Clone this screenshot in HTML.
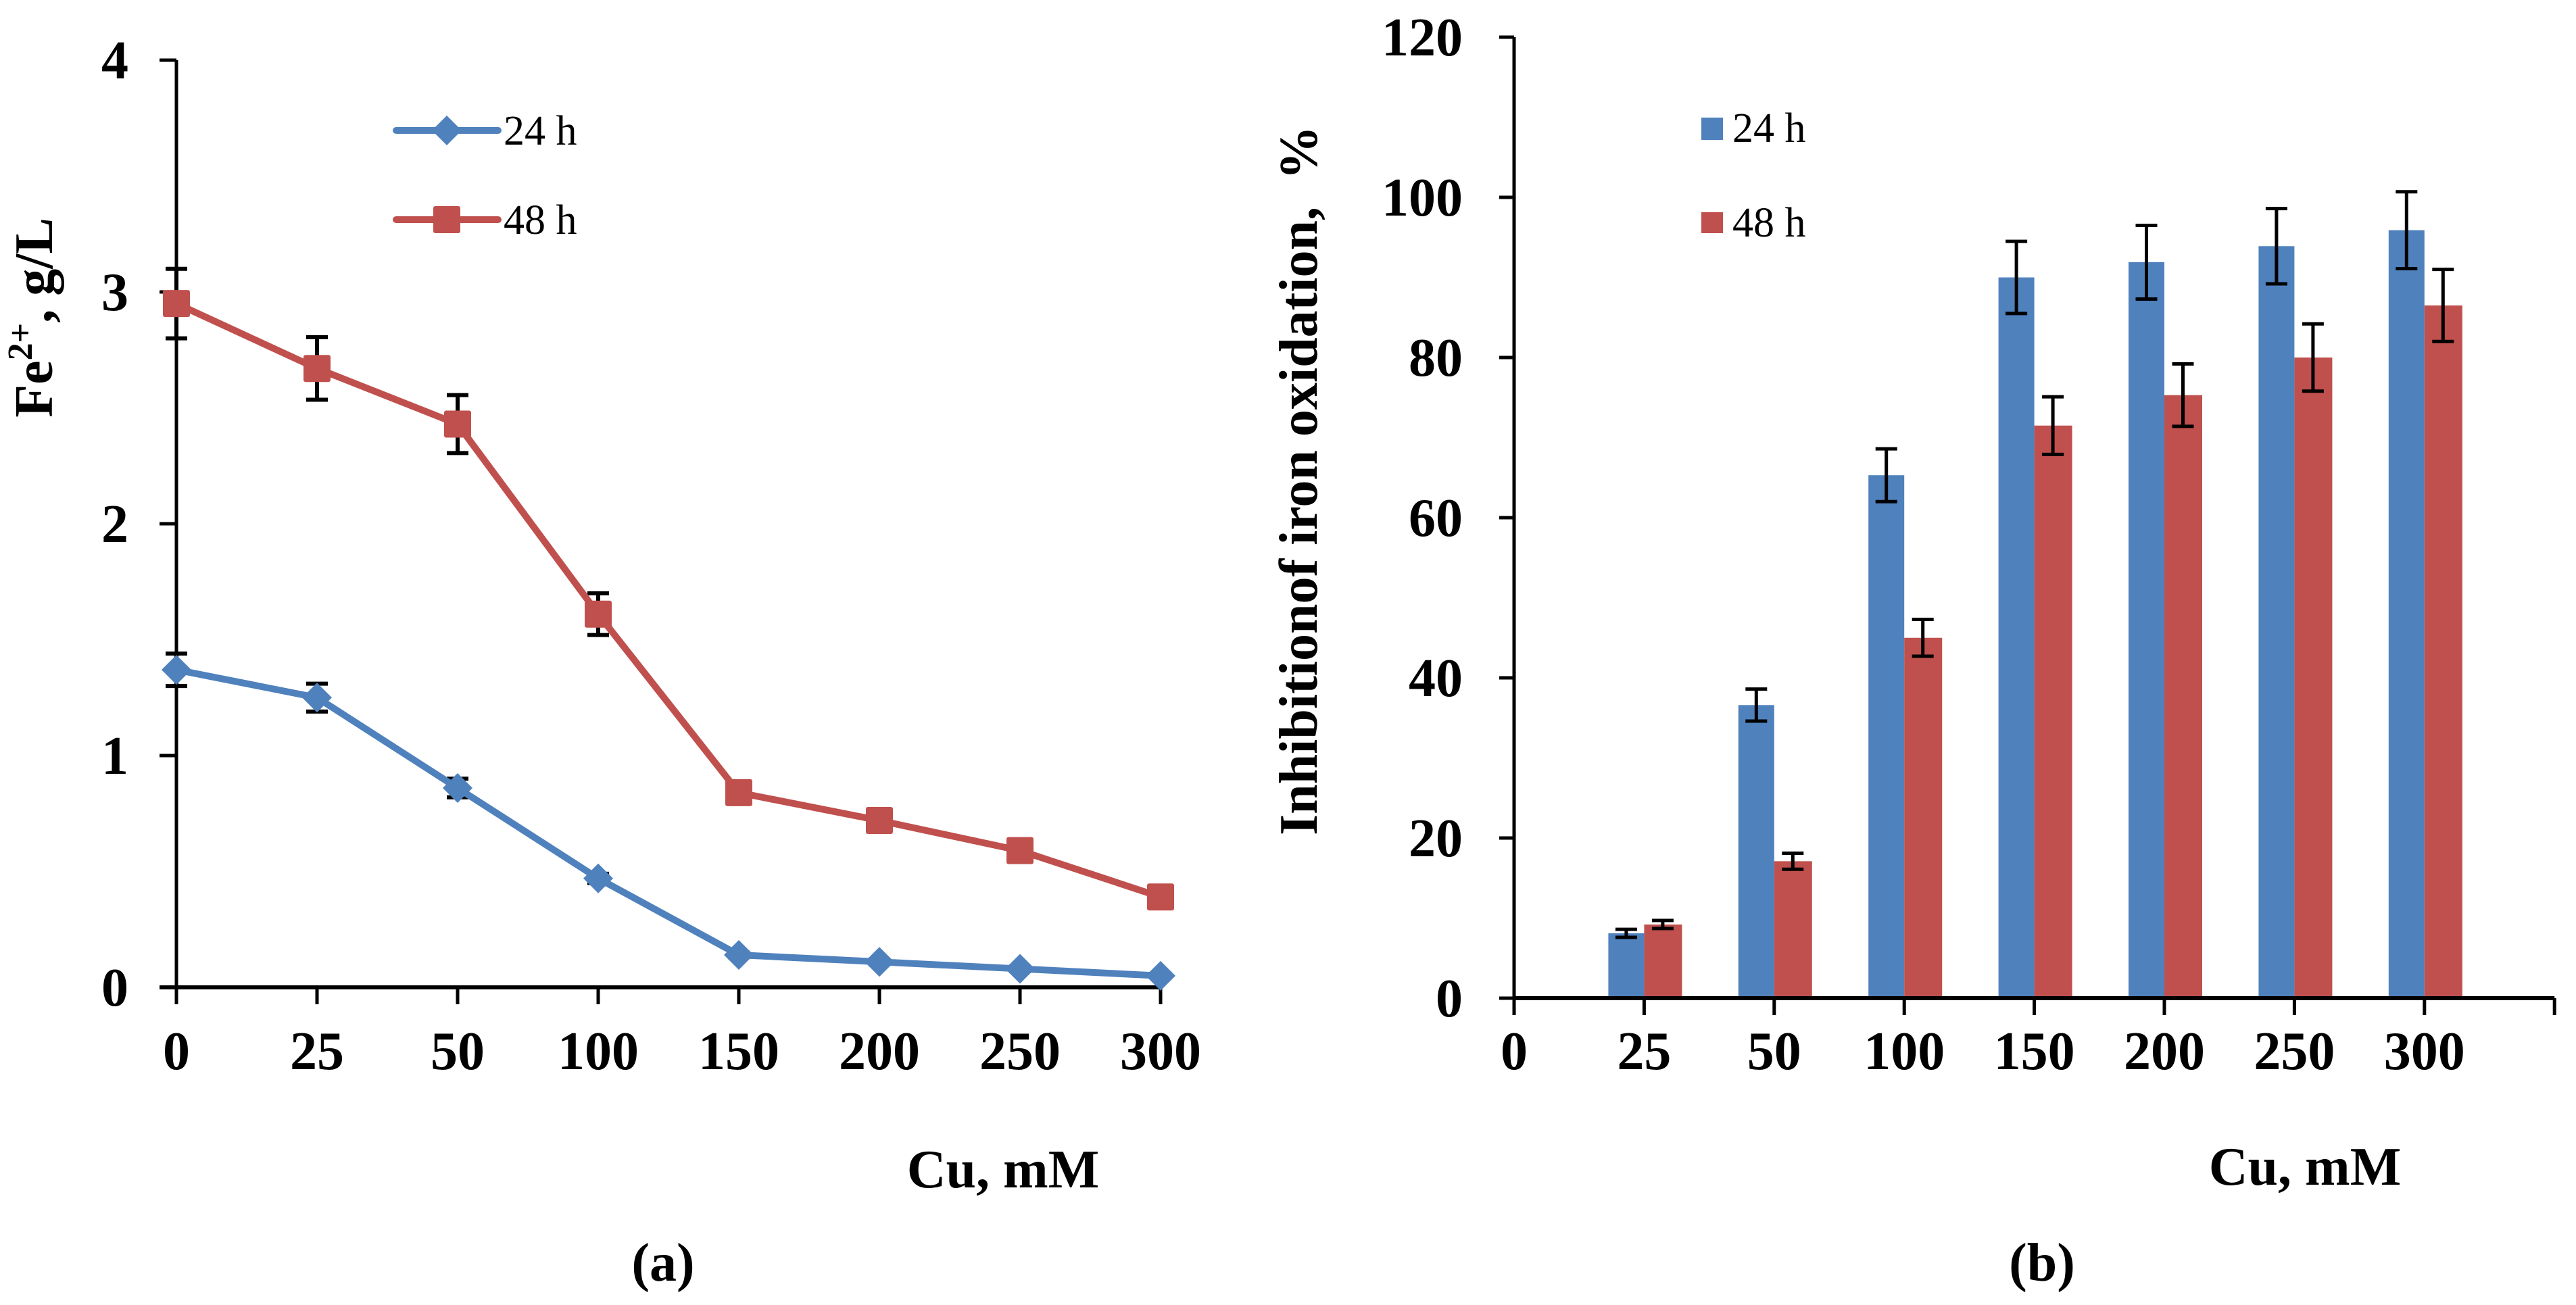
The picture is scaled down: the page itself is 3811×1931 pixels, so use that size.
<!DOCTYPE html>
<html><head><meta charset="utf-8"><style>
html,body{margin:0;padding:0;background:#fff;}
svg{display:block;}
text{font-family:"Liberation Serif",serif;fill:#000;}
.b{font-weight:bold;}
</style></head><body>
<svg id="svg" width="3811" height="1931" viewBox="0 0 3811 1931" xmlns="http://www.w3.org/2000/svg">
<g id="ga"></g>
<g id="gb"></g>
</svg>
<script>
// Chart (a) data
const catsA = ["0","25","50","100","150","200","250","300"];
const a24 = [1.37,1.25,0.86,0.47,0.14,0.11,0.08,0.05];
const a24err = [0.07,0.06,0.04,0.02,0.01,0.01,0.01,0.01];
const a48 = [2.95,2.67,2.43,1.61,0.84,0.72,0.59,0.39];
const a48err = [0.15,0.135,0.125,0.09,0.01,0.01,0.01,0.01];
const ticksA = [0,1,2,3,4];
// Chart (b) data
const catsB = ["0","25","50","100","150","200","250","300"];
const b24 = [null,8.1,36.6,65.3,90.0,91.9,93.9,95.9];
const b24err = [null,0.5,2.0,3.3,4.5,4.6,4.7,4.8];
const b48 = [null,9.2,17.1,45.0,71.5,75.3,80.0,86.5];
const b48err = [null,0.5,1.0,2.3,3.6,3.9,4.2,4.5];
const ticksB = [0,20,40,60,80,100,120];

const NS="http://www.w3.org/2000/svg";
const BLUE="#4f81bd", RED="#c0504d";
const FF='"Liberation Serif", serif';
function mk(parent,tag,attrs,txt){const e=document.createElementNS(NS,tag);for(const k in attrs)e.setAttribute(k,attrs[k]);if(tag==='text')e.setAttribute('font-family',FF);if(txt!==undefined)e.textContent=txt;parent.appendChild(e);return e;}

// ---- chart a ----
const ga=document.getElementById('ga');
const ax0=261, ay0=1461, ayTop=89, aMax=4, aStep=208;
const xa=i=>ax0+i*aStep;
const ya=v=>ay0-(v/aMax)*(ay0-ayTop);
let e;
e=mk(ga,'line',{x1:ax0,y1:ayTop,x2:ax0,y2:ay0,stroke:'#000','stroke-width':5});


e=mk(ga,'line',{x1:ax0-25,y1:ay0,x2:xa(7)+2,y2:ay0,stroke:'#000','stroke-width':6});


ticksA.forEach(t=>{
  const y=ya(t);
  mk(ga,'line',{x1:ax0-25,y1:y,x2:ax0,y2:y,stroke:'#000','stroke-width':5});
  e=mk(ga,'text',{x:190,y:y+27,'text-anchor':'end','font-size':80,class:'b'},String(t));
  
  
});
catsA.forEach((c,i)=>{
  mk(ga,'line',{x1:xa(i),y1:ay0,x2:xa(i),y2:ay0+25,stroke:'#000','stroke-width':5});
  e=mk(ga,'text',{x:xa(i),y:1582,'text-anchor':'middle','font-size':80,class:'b'},c);
  
  
});
function errA(vals,errs){vals.forEach((v,i)=>{const t=ya(v+errs[i]),b=ya(v-errs[i]),x=xa(i);
  const g=mk(ga,'g',{stroke:'#000','stroke-width':6});
  
  
  mk(g,'line',{x1:x,y1:t,x2:x,y2:b});mk(g,'line',{x1:x-16,y1:t,x2:x+16,y2:t});mk(g,'line',{x1:x-16,y1:b,x2:x+16,y2:b});});}
errA(a48,a48err); errA(a24,a24err);
e=mk(ga,'polyline',{points:a48.map((v,i)=>xa(i)+','+ya(v)).join(' '),fill:'none',stroke:RED,'stroke-width':10,'stroke-linejoin':'round'});


a48.forEach((v,i)=>{e=mk(ga,'rect',{x:xa(i)-20,y:ya(v)-20,width:40,height:40,fill:RED,rx:3});
  
  });
e=mk(ga,'polyline',{points:a24.map((v,i)=>xa(i)+','+ya(v)).join(' '),fill:'none',stroke:BLUE,'stroke-width':10,'stroke-linejoin':'round'});


a24.forEach((v,i)=>{const x=xa(i),y=ya(v);e=mk(ga,'polygon',{points:`${x},${y-22} ${x+22},${y} ${x},${y+22} ${x-22},${y}`,fill:BLUE});
  
  });

// legend a + titles
e=mk(ga,'g',{});


mk(e,'line',{x1:586,y1:193,x2:737,y2:193,stroke:BLUE,'stroke-width':10,'stroke-linecap':'round'});
mk(e,'polygon',{points:'661,171 683,193 661,215 639,193',fill:BLUE});
mk(e,'text',{x:745,y:214,'font-size':62},'24 h');
e=mk(ga,'g',{});


mk(e,'line',{x1:586,y1:325,x2:737,y2:325,stroke:RED,'stroke-width':10,'stroke-linecap':'round'});
mk(e,'rect',{x:641,y:305,width:40,height:40,fill:RED,rx:3});
mk(e,'text',{x:745,y:346,'font-size':62},'48 h');
e=mk(ga,'text',{transform:'translate(77,470) rotate(-90)','text-anchor':'middle','font-size':80,class:'b'});


e.innerHTML='Fe<tspan dy="-30" font-size="52">2+</tspan><tspan dy="30">, g/L</tspan>';
e=mk(ga,'text',{x:1484,y:1757,'text-anchor':'middle','font-size':80,class:'b'},'Cu, mM');


e=mk(ga,'text',{x:981,y:1895,'text-anchor':'middle','font-size':80,class:'b'},'(a)');



// ---- chart b ----
const gb=document.getElementById('gb');
const bx0=2240, by0=1477, byTop=55, bMax=120, bStep=192.4, bw=53;
const xb=i=>bx0+i*bStep;
const yb=v=>by0-(v/bMax)*(by0-byTop);
e=mk(gb,'line',{x1:bx0,y1:byTop,x2:bx0,y2:by0,stroke:'#000','stroke-width':5});


ticksB.forEach(t=>{const y=yb(t);
  mk(gb,'line',{x1:bx0-22,y1:y,x2:bx0,y2:y,stroke:'#000','stroke-width':5});
  e=mk(gb,'text',{x:2164,y:y+27,'text-anchor':'end','font-size':80,class:'b'},String(t));
  
  
});
catsB.forEach((c,i)=>{
  if(b24[i]!==null){
    e=mk(gb,'rect',{x:xb(i)-bw,y:yb(b24[i]),width:bw,height:by0-yb(b24[i]),fill:BLUE});
    
    
    e=mk(gb,'rect',{x:xb(i),y:yb(b48[i]),width:bw+3,height:by0-yb(b48[i]),fill:RED});
    
    
  }
});
function errB(vals,errs,off){vals.forEach((v,i)=>{if(v===null)return;const x=xb(i)+off,t=yb(v+errs[i]),b=yb(v-errs[i]);
  const g=mk(gb,'g',{stroke:'#000','stroke-width':5});
  
  
  mk(g,'line',{x1:x,y1:t,x2:x,y2:b});mk(g,'line',{x1:x-16,y1:t,x2:x+16,y2:t});mk(g,'line',{x1:x-16,y1:b,x2:x+16,y2:b});});}
errB(b24,b24err,-bw/2); errB(b48,b48err,bw/2+1);
e=mk(gb,'line',{x1:bx0,y1:by0,x2:xb(8),y2:by0,stroke:'#000','stroke-width':6});


for(let i=0;i<=8;i++) mk(gb,'line',{x1:xb(i),y1:by0,x2:xb(i),y2:by0+25,stroke:'#000','stroke-width':5});
catsB.forEach((c,i)=>{
  e=mk(gb,'text',{x:xb(i),y:1582,'text-anchor':'middle','font-size':80,class:'b'},c);
  
  
});
e=mk(gb,'g',{});


mk(e,'rect',{x:2517,y:174,width:32,height:33,fill:BLUE});
mk(e,'text',{x:2563,y:210,'font-size':62},'24 h');
e=mk(gb,'g',{});


mk(e,'rect',{x:2517,y:314,width:32,height:31,fill:RED});
mk(e,'text',{x:2563,y:350,'font-size':62},'48 h');
e=mk(gb,'text',{transform:'translate(1948,711) rotate(-90)','text-anchor':'middle','font-size':80,class:'b'},'Inhibitionof iron oxidation,\u00a0\u00a0%');


e=mk(gb,'text',{x:3410,y:1753,'text-anchor':'middle','font-size':80,class:'b'},'Cu, mM');


e=mk(gb,'text',{x:3021,y:1895,'text-anchor':'middle','font-size':80,class:'b'},'(b)');


</script>
</body></html>
